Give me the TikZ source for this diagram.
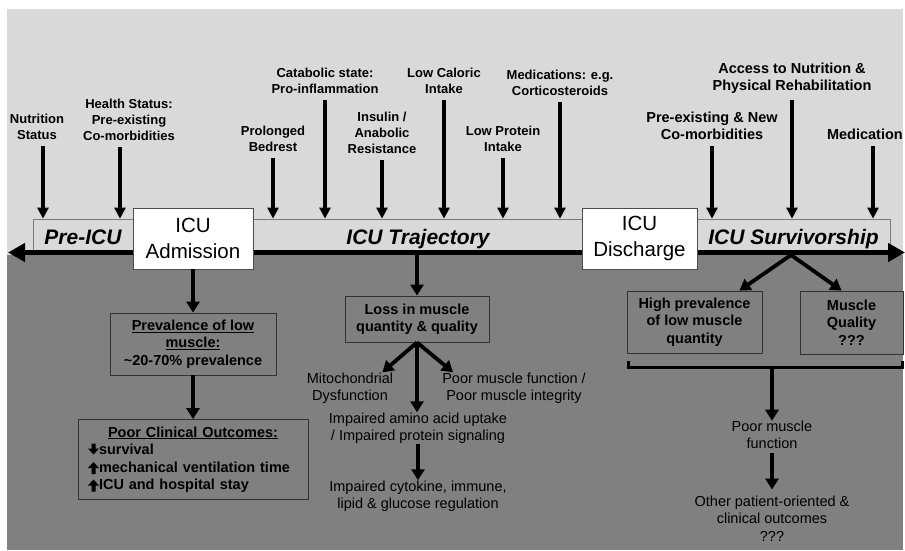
\documentclass[tikz,border=0pt]{standalone}
\usepackage{fontspec}
\setmainfont{Liberation Sans}
\usetikzlibrary{arrows.meta, positioning}

\definecolor{lightbg}{HTML}{D9D9D9}
\definecolor{darkbg}{HTML}{808080}
\definecolor{edgegray}{HTML}{7A7A7A}

% small block arrows used in the outcome list
\newcommand{\dnmark}{\tikz[x=1pt,y=1pt,baseline=0pt]\fill (-2,11) -- (2,11) -- (2,6) -- (5.5,6) -- (0,0) -- (-5.5,6) -- (-2,6) -- cycle;}
\newcommand{\upmark}{\tikz[x=1pt,y=1pt,baseline=1pt]\fill (-2,-1) -- (2,-1) -- (2,5) -- (5.5,5) -- (0,11) -- (-5.5,5) -- (-2,5) -- cycle;}

\begin{document}
\begin{tikzpicture}[x=1pt, y=-1pt,
  lbl/.style={font=\bfseries\fontsize{13}{16}\selectfont, align=center, inner sep=0pt, anchor=south},
  lblbig/.style={font=\bfseries\fontsize{14.5}{17.5}\selectfont, align=center, inner sep=0pt, anchor=south},
  txt/.style={font=\fontsize{14.5}{17.5}\selectfont, align=center, inner sep=0pt},
  band/.style={draw=edgegray, fill=lightbg, line width=0.8pt, inner sep=0pt,
    minimum height=33pt, text height=17pt, text depth=0pt,
    font=\bfseries\itshape\fontsize{21}{25}\selectfont},
  icubox/.style={draw=black!70, fill=white, line width=0.8pt, inner sep=0pt, align=center,
    minimum height=61pt, font=\fontsize{20.5}{26}\selectfont},
  outbox/.style={draw=black!80, line width=0.8pt, align=center, inner sep=0pt,
    font=\bfseries\fontsize{14.5}{17.5}\selectfont},
  inarr/.style={line width=3.3pt, shorten <=6pt, -{Triangle[length=11pt, width=11pt]}},
  outarr/.style={line width=3.8pt, -{Triangle[length=11pt, width=13pt]}},
  timeline/.style={line width=5pt, {Triangle[length=17pt, width=18pt]}-{Triangle[length=17pt, width=18pt]}},
  bracket/.style={line width=3pt}
]
\useasboundingbox (0,0) rectangle (905,550);

% --- backgrounds ---
\fill[lightbg] (7,9) rectangle (903,255);
\fill[darkbg] (7,255) rectangle (903,550);

% --- phase bands ---
\node[band, minimum width=100pt] (pre) at (83,235.5) {Pre-ICU};
\node[band, minimum width=330pt] (traj) at (418,235.5) {ICU Trajectory};
\node[band, minimum width=193pt] (surv) at (793.5,235.5) {ICU Survivorship};

% --- timeline ---
\coordinate (tlL) at (8,252.5);
\coordinate (tlR) at (905,252.5);
\draw[timeline] (tlL) -- (tlR);

% --- admission / discharge ---
\node[icubox, minimum width=120pt] (adm) at (193,238.5) {ICU\\Admission};
\node[icubox, minimum width=115pt] (dis) at (639.5,238.5) {ICU\\Discharge};

% --- factors acting on each phase ---
\node[lbl] (nutr) at (37,140) {Nutrition\\Status};
\node[lbl] (hlth) at (129,141) {Health Status:\\Pre-existing\\Co-morbidities};
\node[lbl] (bedr) at (273,152) {Prolonged\\Bedrest};
\node[lbl] (cata) at (325,94) {Catabolic state:\\Pro-inflammation};
\node[lbl] (insu) at (382,154) {Insulin /\\Anabolic\\Resistance};
\node[lbl] (calo) at (444,94) {Low Caloric\\Intake};
\node[lbl] (prot) at (503,152) {Low Protein\\Intake};
\node[lbl] (medi) at (560,96) {Medications: e.g.\\Corticosteroids};
\node[lblbig] (como) at (712,140) {Pre-existing \& New\\Co-morbidities};
\node[lblbig] (acce) at (792,94) {Access to Nutrition \&\\Physical Rehabilitation};
\node[lblbig, anchor=south east] (medr) at (903,140) {Medication};

\draw[inarr] ([xshift=6pt]nutr.south) -- ([xshift=6pt]nutr.south |- pre.north);
\draw[inarr] ([xshift=-9pt]hlth.south) -- ([xshift=-9pt]hlth.south |- pre.north);
\foreach \f in {bedr, cata, insu, calo, prot, medi}
  \draw[inarr] (\f.south) -- (\f.south |- traj.north);
\foreach \f in {como, acce}
  \draw[inarr] (\f.south) -- (\f.south |- surv.north);
\draw[inarr] ([xshift=-30pt]medr.south east) -- ([xshift=-30pt]medr.south east |- surv.north);

% --- admission branch ---
\node[outbox, minimum width=166pt, minimum height=62pt] (prev) at (193,344)
  {\underline{Prevalence of low}\\\underline{muscle:}\\\textasciitilde20-70\% prevalence};
\node[outbox, align=left, text width=210pt, inner xsep=10pt, minimum height=80pt] (outc) at (193,459.5)
  {\makebox[\linewidth][c]{\underline{Poor Clinical Outcomes:}}\\
   \dnmark survival\\
   \upmark mechanical ventilation time\\
   \upmark ICU and hospital stay};
\draw[outarr] (adm.south) -- (prev.north);
\draw[outarr] (prev.south) -- (outc.north);

% --- trajectory branch ---
\coordinate (tjm) at (417,255);
\node[outbox, minimum width=144pt, minimum height=46pt] (loss) at (417,319) {Loss in muscle\\quantity \& quality};
\node[txt] (mito) at (350,388) {Mitochondrial\\Dysfunction};
\node[txt] (pfun) at (514,388) {Poor muscle function /\\Poor muscle integrity};
\node[txt] (amin) at (418,428) {Impaired amino acid uptake\\/ Impaired protein signaling};
\node[txt] (cyto) at (418,496) {Impaired cytokine, immune,\\lipid \& glucose regulation};
\draw[outarr] (tjm) -- (loss.north);
\draw[outarr] (loss.south) -- ([xshift=-11pt]mito.north east);
\draw[outarr] (loss.south) -- (loss.south |- amin.north);
\draw[outarr] (loss.south) -- ([xshift=11pt]pfun.north west);
\draw[outarr] (amin.south) -- (cyto.north);

% --- survivorship branch ---
\coordinate (svm) at (791,255);
\node[outbox, minimum width=135pt, minimum height=62pt] (high) at (694.5,322) {High prevalence\\of low muscle\\quantity};
\node[outbox, minimum width=103pt, minimum height=63pt] (qual) at (851.5,322.5) {Muscle\\Quality\\???};
\draw[outarr] (svm) -- ([xshift=-23pt]high.north east);
\draw[outarr] (svm) -- ([xshift=42pt]qual.north west);

\coordinate (brL) at (628,367);
\coordinate (brR) at (902,367);
\coordinate (brM) at (772,367);
\draw[bracket] (brL) ++(0,-6) -- (brL) -- (brR) -- ++(0,-6);

\node[txt] (pmf) at (772,435) {Poor muscle\\function};
\node[txt] (othr) at (772,518.5) {Other patient-oriented \&\\clinical outcomes\\???};
\draw[outarr] (brM) -- (pmf.north);
\draw[outarr, shorten <=4pt, shorten >=6pt] (pmf.south) -- (othr.north);

\end{tikzpicture}
\end{document}
